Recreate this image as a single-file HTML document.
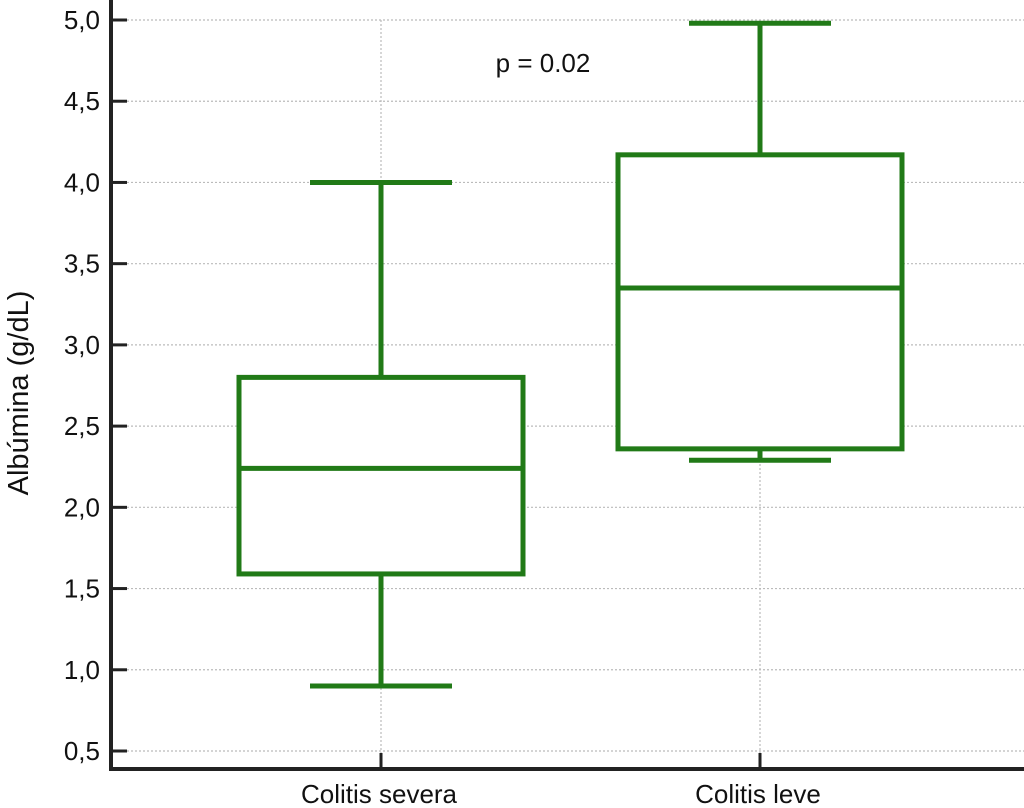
<!DOCTYPE html>
<html><head><meta charset="utf-8"><style>
body{margin:0;background:#fff}
svg{display:block;font-family:"Liberation Sans",sans-serif}
</style></head><body>
<svg id="chart" width="1024" height="808" viewBox="0 0 1024 808">
<g id="grid"></g>
<g id="boxes"></g>
<g id="axes"></g>
<text x="543" y="72" font-size="26" text-anchor="middle" fill="#111">p = 0.02</text>
<text transform="translate(28,393) rotate(-90)" font-size="29" text-anchor="middle" fill="#111">Albúmina (g/dL)</text>
</svg>
<script>
const categories=["Colitis severa","Colitis leve"];
const whiskerLow=[0.9,2.29];
const q1=[1.59,2.36];
const median=[2.24,3.35];
const q3=[2.80,4.17];
const whiskerHigh=[4.0,4.98];
const yTicks=[0.5,1.0,1.5,2.0,2.5,3.0,3.5,4.0,4.5,5.0];
const yTickLabels=["0,5","1,0","1,5","2,0","2,5","3,0","3,5","4,0","4,5","5,0"];

const NS="http://www.w3.org/2000/svg";
const X0=111,Y0=769;
const y=v=>751+(v-0.5)*(20-751)/4.5;
const xc=i=>381+i*379;
function mk(p,tag,a){const e=document.createElementNS(NS,tag);for(const k in a)e.setAttribute(k,a[k]);p.appendChild(e);return e;}
const grid=document.getElementById('grid'),axes=document.getElementById('axes'),boxes=document.getElementById('boxes');
yTicks.forEach((t,i)=>{
  const g=mk(grid,'line',{x1:X0,x2:1024,y1:y(t),y2:y(t),stroke:'#bbb','stroke-width':1.2,'stroke-dasharray':'2,2'});
  
  
  const tk=mk(axes,'line',{x1:X0,x2:X0+16,y1:y(t),y2:y(t),stroke:'#222','stroke-width':3});
  
  
  const lb=mk(axes,'text',{x:X0-11,y:y(t)+9,'font-size':26,'text-anchor':'end',fill:'#111'});
  lb.textContent=yTickLabels[i];
  
  
});
categories.forEach((c,i)=>{
  const x=xc(i);
  const g=mk(grid,'line',{x1:x,x2:x,y1:20,y2:Y0,stroke:'#bbb','stroke-width':1.2,'stroke-dasharray':'2,2'});
  
  
  const tk=mk(axes,'line',{x1:x,x2:x,y1:Y0-16,y2:Y0,stroke:'#222','stroke-width':3});
  
  
  const lb=mk(axes,'text',{x:x-2,y:803,'font-size':26,'text-anchor':'middle',fill:'#111'});
  lb.textContent=c;
  
  
  const G=mk(boxes,'g',{stroke:'#217a17','stroke-width':5,fill:'none'});
  
  
  const hw=142,cw=71;
  mk(G,'line',{x1:x,x2:x,y1:y(whiskerLow[i]),y2:y(q1[i])});
  mk(G,'line',{x1:x,x2:x,y1:y(q3[i]),y2:y(whiskerHigh[i])});
  mk(G,'line',{x1:x-cw,x2:x+cw,y1:y(whiskerLow[i]),y2:y(whiskerLow[i])});
  mk(G,'line',{x1:x-cw,x2:x+cw,y1:y(whiskerHigh[i]),y2:y(whiskerHigh[i])});
  mk(G,'rect',{x:x-hw,y:y(q3[i]),width:2*hw,height:y(q1[i])-y(q3[i]),fill:'#fff'});
  mk(G,'line',{x1:x-hw,x2:x+hw,y1:y(median[i]),y2:y(median[i])});
});
const ax=mk(axes,'path',{d:`M${X0},0 V${Y0} H1024`,stroke:'#222','stroke-width':4,fill:'none'});


</script>
</body></html>
